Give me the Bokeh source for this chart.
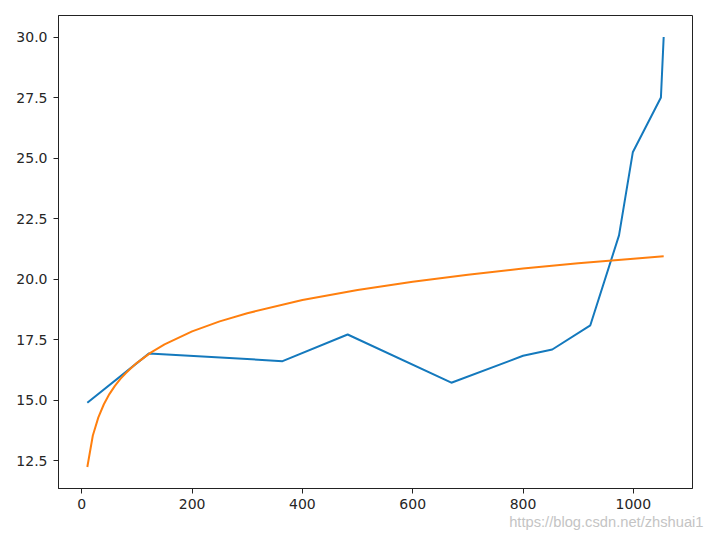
from bokeh.plotting import figure
from bokeh.models import Range1d, FixedTicker, NumeralTickFormatter, Title
from bokeh.embed import file_html
from bokeh.resources import INLINE

# Blue series (measured)
blue_x = [10, 122, 364, 482, 670, 800, 853, 922, 974, 999, 1050, 1055]
blue_y = [14.9, 16.94, 16.62, 17.72, 15.73, 16.84, 17.10, 18.10, 21.81, 25.24, 27.50, 30.0]

# Orange fitted curve
orange_x = [10, 20, 30, 40, 50, 60, 70, 80, 90, 100, 125, 150, 200, 250, 300,
            400, 500, 600, 700, 800, 900, 1000, 1055]
orange_y = [12.25, 13.55, 14.30, 14.84, 15.26, 15.60, 15.89, 16.13, 16.35, 16.55,
            16.97, 17.31, 17.85, 18.26, 18.60, 19.14, 19.56, 19.90, 20.19, 20.44,
            20.66, 20.85, 20.95]

x_ticks = [0, 200, 400, 600, 800, 1000]
y_ticks = [12.5, 15.0, 17.5, 20.0, 22.5, 25.0, 27.5, 30.0]
watermark = "https://blog.csdn.net/zhshuai1"

all_x = blue_x + orange_x
all_y = blue_y + orange_y
xpad = 0.05 * (max(all_x) - min(all_x))
ypad = 0.05 * (max(all_y) - min(all_y))

p = figure(width=714, height=536, output_backend="svg", toolbar_location=None,
           x_range=Range1d(min(all_x) - xpad, max(all_x) + xpad),
           y_range=Range1d(min(all_y) - ypad, max(all_y) + ypad),
           min_border_left=58, min_border_right=22, min_border_top=15, min_border_bottom=48)

p.line(blue_x, blue_y, line_color="#1479bd", line_width=2)
p.line(orange_x, orange_y, line_color="#ff7f0e", line_width=2)

p.xgrid.visible = False
p.ygrid.visible = False
p.outline_line_color = "#222222"
p.outline_line_width = 1
p.outline_line_alpha = 1

for ax in (p.xaxis[0], p.yaxis[0]):
    ax.axis_line_color = "#222222"
    ax.major_tick_line_color = "#222222"
    ax.major_tick_out = 5
    ax.major_tick_in = 0
    ax.minor_tick_out = 0
    ax.minor_tick_in = 0
    ax.major_label_text_font = "DejaVu Sans"
    ax.major_label_text_font_size = "14px"
    ax.major_label_text_color = "#262626"

p.xaxis[0].ticker = FixedTicker(ticks=x_ticks)
p.yaxis[0].ticker = FixedTicker(ticks=y_ticks)
p.yaxis[0].formatter = NumeralTickFormatter(format="0.0")
p.xaxis[0].major_label_standoff = 5
p.yaxis[0].major_label_standoff = 6

wm = Title(text=watermark, align="right", text_font="Liberation Sans",
           text_font_size="14.7px", text_font_style="normal",
           text_color="#c4c4c4", standoff=0, offset=-11)
p.add_layout(wm, "below")

open("out.html", "w").write(file_html(p, INLINE))
